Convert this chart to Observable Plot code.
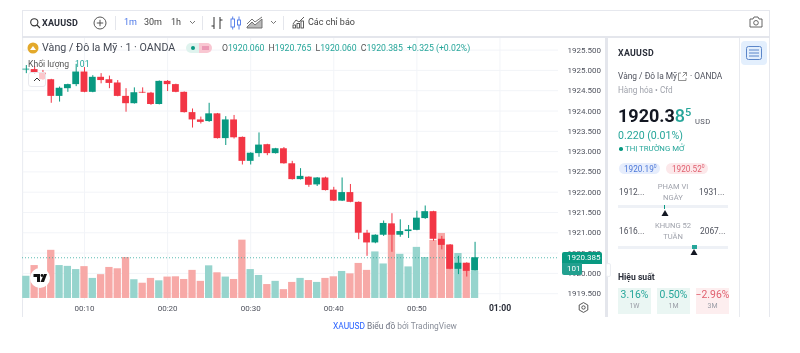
<!DOCTYPE html>
<html lang="vi"><head><meta charset="utf-8">
<script src="https://cdn.jsdelivr.net/npm/d3@7"></script>
<script src="https://cdn.jsdelivr.net/npm/@observablehq/plot@0.6"></script>
<style>
html,body{margin:0;padding:0;background:#fff;}
#page{position:relative;width:800px;height:353px;overflow:hidden;font-family:Roboto,sans-serif;color:#131722;filter:blur(.3px);}
.t{position:absolute;white-space:nowrap;line-height:1;}
.b{position:absolute;box-sizing:border-box;}
#chart{position:absolute;left:22px;top:38px;}
#chart svg{display:block;background:transparent;}
svg.i{position:absolute;overflow:visible;fill:none;}
</style></head><body>
<div id="page">
  <!-- frame -->
  <div class="b" style="left:22px;top:10px;width:748px;height:307px;border:1px solid #e6e8ee;border-bottom:none"></div>
  <div class="b" style="left:22px;top:36px;width:748px;height:2px;background:#e4e6ec"></div>
  <div class="b" style="left:605px;top:37px;width:3px;height:280px;background:#e4e6ec"></div>
  <div class="b" style="left:739px;top:38px;width:1px;height:279px;background:#e8eaef"></div>
  <div id="chart"></div>

  <!-- toolbar -->
  <svg class="i" style="left:30px;top:18px" width="10" height="10" stroke="#333" stroke-width="1.1"><circle cx="4.3" cy="4.3" r="3.6"/><path d="M7 7l3 3"/></svg>
  <div class="t" style="left:42px;top:18.5px;font-size:9px;font-weight:700;color:#2a2e39;letter-spacing:.2px">XAUUSD</div>
  <svg class="i" style="left:93px;top:16px" width="14" height="14" stroke="#444" stroke-width=".9"><circle cx="7" cy="7" r="6"/><path d="M7 3.8v6.4M3.8 7h6.4"/></svg>
  <div class="b" style="left:115px;top:16px;width:1px;height:14px;background:#e4e6ec"></div>
  <div class="t" style="left:124px;top:18px;font-size:9px;color:#4a76e8">1m</div>
  <div class="t" style="left:144px;top:18px;font-size:9px;color:#444">30m</div>
  <div class="t" style="left:171px;top:18px;font-size:9px;color:#444">1h</div>
  <svg class="i" style="left:189px;top:20px" width="7" height="5" stroke="#555" stroke-width=".8"><path d="M1 1l2.5 2.5L6 1"/></svg>
  <div class="b" style="left:202px;top:16px;width:1px;height:14px;background:#e4e6ec"></div>
  <svg class="i" style="left:211px;top:16px" width="12" height="14" stroke="#333" stroke-width="1"><path d="M3 1v12M0.5 10H3M9 1v12M9 4h2.5"/></svg>
  <svg class="i" style="left:230px;top:16px" width="12" height="14" stroke="#4a76e8" stroke-width=".9"><rect x="1" y="3" width="3.5" height="8"/><path d="M2.7 0.5v2.5M2.7 11v2.5M9 .5v13"/><rect x="7.5" y="4" width="3" height="5" fill="#fff"/></svg>
  <svg class="i" style="left:247px;top:17px" width="16" height="12" stroke="#666" stroke-width=".9"><path d="M0 10l5-5 3 3 7-6v9H0z" fill="#bbb"/><path d="M0 7l5-5 3 3 7-5"/></svg>
  <svg class="i" style="left:270px;top:20px" width="7" height="5" stroke="#555" stroke-width=".8"><path d="M1 1l2.5 2.5L6 1"/></svg>
  <div class="b" style="left:283px;top:16px;width:1px;height:14px;background:#e4e6ec"></div>
  <svg class="i" style="left:292px;top:16px" width="13" height="13" stroke="#333" stroke-width=".8"><path d="M1 8l3-4 3 2 5-5"/><rect x="1" y="9" width="2.5" height="3"/><rect x="5" y="7.5" width="2.5" height="4.5"/><rect x="9" y="5" width="2.5" height="7"/></svg>
  <div class="t" style="left:308px;top:18px;font-size:9px;color:#444">Các chỉ báo</div>
  <svg class="i" style="left:749px;top:16px" width="14" height="12" stroke="#555" stroke-width=".9"><path d="M1 3h3l1-2h4l1 2h3v8H1z"/><circle cx="7" cy="6.8" r="2.3"/></svg>

  <!-- legend -->
  <svg class="i" style="left:27px;top:42px" width="12" height="12"><circle cx="6" cy="6" r="5.5" fill="#e3a92b"/><path d="M3 8l3-4 3 4z" fill="#fff"/></svg>
  <div class="t" style="left:42px;top:42.5px;font-size:10.7px;color:#454a55">Vàng / Đô la Mỹ · 1 · OANDA</div>
  <div class="b" style="left:186px;top:43px;width:14px;height:10px;background:#dff3ee;border-radius:5px 0 0 5px"></div>
  <div class="b" style="left:191px;top:46px;width:4px;height:4px;background:#089981;border-radius:50%"></div>
  <div class="b" style="left:199px;top:43px;width:13px;height:10px;background:#f9c7d2;border-radius:0 5px 5px 0"></div>
  <svg class="i" style="left:202px;top:46px" width="7" height="4" stroke="#d8558a" stroke-width=".8"><path d="M0 1h7M0 3h7"/></svg>
  <div class="t" style="left:222px;top:43.5px;font-size:8.7px;color:#26a69a"><span style="color:#555">O</span>1920.060 <span style="color:#555;margin-left:2px">H</span>1920.765 <span style="color:#555;margin-left:2px">L</span>1920.060 <span style="color:#555;margin-left:2px">C</span>1920.385 <span style="margin-left:2px">+0.325 (+0.02%)</span></div>
  <div class="t" style="left:28px;top:59.5px;font-size:8.6px;color:#555">Khối lượng</div>
  <div class="t" style="left:75px;top:59.5px;font-size:8.6px;color:#26a69a">101</div>
  <div class="b" style="left:28px;top:72px;width:18px;height:15px;background:rgba(255,255,255,.72);border:1px solid #e8e9ee;border-radius:3px"></div>
  <svg class="i" style="left:33px;top:77px" width="8" height="5" stroke="#333" stroke-width="1"><path d="M1 4l3-3 3 3"/></svg>

  <!-- logo / tags -->
  <svg class="i" style="left:30px;top:268px" width="20" height="20"><circle cx="10" cy="10" r="10" fill="#fff"/><path d="M3.5 6h6.5v8H7V9H3.5zM14 6h3l-3 8h-3.500z" fill="#111"/><circle cx="12" cy="7.500" r="1.400" fill="#111"/></svg>
  <div class="b" style="left:562px;top:252px;width:40px;height:11.5px;background:#089981;border-radius:2px 2px 0 0"></div>
  <div class="t" style="left:567px;top:253.5px;font-size:8px;color:#fff">1920.385</div>
  <div class="b" style="left:562px;top:263px;width:20px;height:12px;background:#22a08f;border-radius:0 0 2px 2px"></div>
  <div class="t" style="left:567px;top:265px;font-size:8px;color:#fff">101</div>
  <svg class="i" style="left:577.5px;top:301.5px" width="11" height="11" stroke="#444" stroke-width=".9"><path d="M5.5 .6L9.800 3v5L5.500 10.400 1.200 8V3z"/><circle cx="5.500" cy="5.500" r="1.700"/></svg>
  <div class="b" style="left:606px;top:263px;width:5px;height:14px;background:#fff;border-radius:2px;border:1px solid #eceef2"></div>

  <!-- caption -->
  <div class="t" style="left:333px;top:322px;font-size:8.4px;color:#6d7280"><span style="color:#2962ff">XAUUSD</span> Biểu đồ <span style="color:#8a8f9a">bởi TradingView</span></div>

  <!-- sidebar -->
  <div class="b" style="left:741px;top:41px;width:26px;height:24px;background:#e3effd;border-radius:4px"></div>
  <svg class="i" style="left:746px;top:46px" width="16" height="14" stroke="#5b86c9" stroke-width="1"><rect x=".5" y=".5" width="15" height="13" rx="2"/><path d="M3 4h10M3 7h10M3 10h10"/></svg>
  <div class="t" style="left:618px;top:49px;font-size:8.8px;font-weight:700;color:#2a2e39;letter-spacing:.3px">XAUUSD</div>
  <div class="t" style="left:618px;top:72px;font-size:8.4px;color:#50535e">Vàng / Đô la Mỹ</div>
  <svg class="i" style="left:678px;top:72px" width="9" height="9" stroke="#777" stroke-width=".8"><path d="M3 1H.5v7.500h7.500V6M5 .5h3.500V4M8.500 .5l-4 4"/></svg>
  <div class="t" style="left:690px;top:72px;font-size:8.4px;color:#50535e">· OANDA</div>
  <div class="t" style="left:618px;top:86px;font-size:8.2px;color:#a0a3ac">Hàng hóa  •  Cfd</div>
  <div class="t" style="left:618px;top:107px;font-size:18px;font-weight:700;color:#131722">1920.3<span style="color:#26a69a;font-weight:500">8</span></div>
  <div class="t" style="left:685px;top:107px;font-size:11px;font-weight:500;color:#26a69a">5</div>
  <div class="t" style="left:695px;top:117.5px;font-size:7.6px;color:#50535e;letter-spacing:.4px">USD</div>
  <div class="t" style="left:618px;top:131px;font-size:10.6px;color:#26a69a">0.220 (0.01%)</div>
  <div class="b" style="left:619px;top:147px;width:3.500px;height:3.500px;background:#089981;border-radius:50%"></div>
  <div class="t" style="left:625px;top:145px;font-size:7.800px;color:#26a69a">THỊ TRƯỜNG MỞ</div>
  <div class="b" style="left:619px;top:163px;width:41px;height:11px;background:#e6edfc;border-radius:6px"></div>
  <div class="t" style="left:624px;top:164.500px;font-size:8.200px;color:#4c78d8">1920.19<sup style="font-size:5px;line-height:0">0</sup></div>
  <div class="b" style="left:666px;top:163px;width:42px;height:11px;background:#fce8ea;border-radius:6px"></div>
  <div class="t" style="left:672px;top:164.500px;font-size:8.200px;color:#e06070">1920.52<sup style="font-size:5px;line-height:0">0</sup></div>

  <div class="t" style="left:619px;top:188px;font-size:8.400px;color:#50535e">1912...</div>
  <div class="t" style="left:648px;top:181px;width:50px;text-align:center;font-size:7.600px;line-height:11px;white-space:normal;color:#a0a3ac">PHẠM VI NGÀY</div>
  <div class="t" style="left:699px;top:188px;font-size:8.400px;color:#50535e">1931...</div>
  <div class="b" style="left:618px;top:205px;width:110px;height:3px;background:#eef1f6"></div>
  <div class="b" style="left:664px;top:205px;width:1px;height:4px;background:#089981"></div>
  <svg class="i" style="left:661px;top:210px" width="8" height="6"><path d="M4 0l3.500 6h-7z" fill="#131722"/></svg>
  <div class="t" style="left:619px;top:227px;font-size:8.400px;color:#50535e">1616...</div>
  <div class="t" style="left:648px;top:220px;width:50px;text-align:center;font-size:7.600px;line-height:11px;white-space:normal;color:#a0a3ac">KHUNG 52 TUẦN</div>
  <div class="t" style="left:700px;top:227px;font-size:8.400px;color:#50535e">2067...</div>
  <div class="b" style="left:618px;top:246px;width:110px;height:3px;background:#eef1f6"></div>
  <div class="b" style="left:692px;top:245px;width:5px;height:4px;background:#26a69a"></div>
  <svg class="i" style="left:690px;top:249px" width="8" height="6"><path d="M4 0l3.500 6h-7z" fill="#131722"/></svg>
  <div class="t" style="left:618px;top:272.500px;font-size:8.600px;font-weight:700;color:#2a2e39">Hiệu suất</div>
  <div class="b" style="left:618px;top:288px;width:33px;height:26px;background:#eaf6f3"></div>
  <div class="t" style="left:618px;top:290px;width:33px;text-align:center;font-size:10.400px;color:#26a69a">3.16%</div>
  <div class="t" style="left:618px;top:303px;width:33px;text-align:center;font-size:7px;color:#9a9da6">1W</div>
  <div class="b" style="left:657px;top:288px;width:33px;height:26px;background:#eaf6f3"></div>
  <div class="t" style="left:657px;top:290px;width:33px;text-align:center;font-size:10.400px;color:#26a69a">0.50%</div>
  <div class="t" style="left:657px;top:303px;width:33px;text-align:center;font-size:7px;color:#9a9da6">1M</div>
  <div class="b" style="left:696px;top:288px;width:33px;height:26px;background:#fdeeef"></div>
  <div class="t" style="left:694px;top:290px;width:37px;text-align:center;font-size:10.400px;color:#e0606f">−2.96%</div>
  <div class="t" style="left:696px;top:303px;width:33px;text-align:center;font-size:7px;color:#9a9da6">3M</div>
</div>
<script>
const minutes = [3,4,5,6,7,8,9,10,11,12,13,14,15,16,17,18,19,20,21,22,23,24,25,26,27,28,29,30,31,32,33,34,35,36,37,38,39,40,41,42,43,44,45,46,47,48,49,50,51,52,53,54,55,56,57];
const opens = [1925.01,1925.02,1924.93,1924.77,1924.36,1924.55,1924.65,1924.96,1924.46,1924.83,1924.77,1924.69,1924.36,1924.18,1924.46,1924.44,1924.16,1924.73,1924.65,1924.46,1923.96,1923.78,1923.74,1923.93,1923.32,1923.78,1923.35,1922.76,1922.95,1923.17,1922.95,1923.07,1922.70,1922.31,1922.37,1922.18,1922.35,1922.05,1921.78,1921.99,1921.75,1920.99,1920.75,1920.94,1921.22,1920.94,1921.03,1921.06,1921.35,1921.52,1920.84,1920.70,1920.10,1920.25,1920.06];
const highs = [1925.12,1925.10,1925.00,1924.78,1924.59,1924.66,1925.15,1925.07,1924.87,1924.92,1924.86,1924.75,1924.55,1924.57,1924.57,1924.46,1924.74,1924.75,1924.66,1924.47,1924.05,1923.85,1924.19,1923.94,1923.86,1923.89,1923.36,1922.97,1923.46,1923.18,1923.08,1923.10,1922.76,1922.58,1922.38,1922.36,1922.37,1922.12,1922.35,1922.19,1921.76,1921.06,1920.95,1921.29,1921.47,1921.32,1921.18,1921.53,1921.66,1921.53,1920.91,1920.71,1920.42,1920.26,1920.765];
const lows = [1924.92,1924.90,1924.75,1924.19,1924.22,1924.46,1924.60,1924.45,1924.45,1924.67,1924.55,1924.35,1923.97,1924.17,1924.43,1924.14,1924.15,1924.48,1924.45,1923.95,1923.58,1923.68,1923.72,1923.31,1923.15,1923.31,1922.67,1922.67,1922.86,1922.90,1922.94,1922.69,1922.30,1922.30,1922.12,1922.14,1922.03,1921.77,1921.77,1921.74,1920.83,1920.42,1920.73,1920.91,1920.52,1920.89,1920.86,1921.05,1921.33,1920.79,1920.58,1920.09,1919.97,1919.91,1920.06];
const closes = [1925.03,1924.93,1924.77,1924.36,1924.56,1924.65,1924.96,1924.46,1924.83,1924.75,1924.68,1924.36,1924.18,1924.45,1924.44,1924.16,1924.73,1924.65,1924.46,1923.96,1923.78,1923.72,1923.93,1923.32,1923.78,1923.34,1922.76,1922.96,1923.16,1922.95,1923.07,1922.70,1922.31,1922.39,1922.17,1922.35,1922.04,1921.78,1921.99,1921.75,1920.99,1920.75,1920.94,1921.23,1920.94,1921.03,1921.07,1921.36,1921.52,1920.84,1920.69,1920.10,1920.25,1920.05,1920.385];
const volumes = [83,123,67,180,123,120,108,119,75,89,116,111,153,70,57,75,66,80,81,71,105,64,122,96,80,71,218,108,86,52,64,33,60,75,67,60,75,81,101,92,131,105,174,129,269,165,118,191,153,217,243,198,168,131,101];
const priceTicks = [1925.5,1925,1924.5,1924,1923.5,1923,1922.5,1922,1921.5,1921,1920.5,1920,1919.5];
const minuteTicks = [10,20,30,40,50];
const hourTick = [60];
const lastPrice = 1920.385;

const UP = "#089981", DOWN = "#f23645", UPV = "#96d4cd", DOWNV = "#f7a9a7";
const candles = minutes.map((m,i)=>({m,o:opens[i],h:highs[i],l:lows[i],c:closes[i],v:volumes[i]}));
// The volume pane shares the price axis: volume is laid on a base level with a fixed ratio.
const volBase = 1919.382, volRatio = 0.00659;

const chart = Plot.plot({
  width:585, height:279,
  marginLeft:0, marginRight:49, marginTop:0, marginBottom:17,
  style:{background:"transparent",fontFamily:"Roboto,sans-serif"},
  x:{type:"linear",domain:[2.54,67.04],axis:null},
  y:{type:"linear",domain:[1919.332,1925.786],axis:null},
  marks:[
    Plot.ruleY(priceTicks,{stroke:"#f2f4f8",strokeWidth:1}),
    Plot.ruleX(minuteTicks.concat(hourTick),{stroke:"#f2f4f8",strokeWidth:1}),
    Plot.ruleX([2.56],{stroke:"#eceef2"}),
    Plot.rect(candles,{x1:d=>d.m-0.44,x2:d=>d.m+0.44,y1:volBase,y2:d=>volBase+d.v*volRatio,fill:d=>d.c>=d.o?UPV:DOWNV}),
    Plot.ruleY([lastPrice],{stroke:"#26a69a",strokeOpacity:.75,strokeWidth:1,strokeDasharray:"1,2"}),
    Plot.ruleX(candles,{x:"m",y1:"l",y2:"h",stroke:d=>d.c>=d.o?UP:DOWN,strokeWidth:1}),
    Plot.rect(candles,{x1:d=>d.m-0.41,x2:d=>d.m+0.41,y1:"o",y2:"c",fill:d=>d.c>=d.o?UP:DOWN}),
    Plot.axisY(priceTicks,{anchor:"right",tickSize:0,tickPadding:9,label:null,tickFormat:d3.format(".3f"),fontSize:8,fill:"#50535e"}),
    Plot.axisX(minuteTicks,{anchor:"bottom",tickSize:0,tickPadding:5,label:null,tickFormat:d=>"00:"+d,fontSize:8,fill:"#50535e"}),
    Plot.axisX(hourTick,{anchor:"bottom",tickSize:0,tickPadding:4,label:null,tickFormat:()=>"01:00",fontSize:8.6,fontWeight:700,fill:"#2a2e39"})
  ]
});
document.getElementById("chart").appendChild(chart);
</script>
</body></html>
